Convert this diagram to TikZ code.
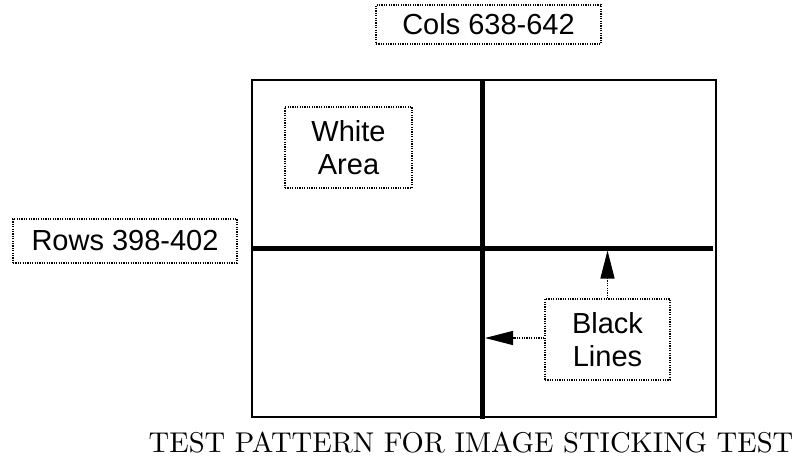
\documentclass[tikz,border=0pt]{standalone}
\usepackage{fontspec}
\newfontfamily\arial{Liberation Sans}
\newfontfamily\capfont{lmroman10-regular}[Extension=.otf]
\usetikzlibrary{positioning,calc,arrows.meta}
\tikzset{>={Triangle[length=28pt,width=14pt]},
  label box/.style={draw,line width=1.2pt,dash pattern=on 1.2pt off 1.2pt,
    font=\arial\fontsize{29}{33}\selectfont,align=center,inner sep=0pt},
  pointer/.style={->,line width=1.2pt,dash pattern=on 1.2pt off 1.2pt},
  black line/.style={line width=5pt}}

\begin{document}
\begin{tikzpicture}[x=1pt,y=-1pt]
\useasboundingbox (0,0) rectangle (802,462);
\node [draw,line width=2pt,minimum width=464pt,minimum height=337pt] (F) at (484,248.5) {};
\node [label box,minimum width=225pt,minimum height=39pt] (C) at (488.5,24.5) {Cols 638-642};
\node [label box,minimum width=224pt,minimum height=44pt] (R) at (125,241) {Rows 398-402};
\node [label box,minimum width=127pt,minimum height=81pt] (W) at (348.5,147.5) {White\\Area};
\node [label box,minimum width=125pt,minimum height=81pt] (B) at (607.5,339.5) {Black\\Lines};
\node [anchor=base,font=\capfont\fontsize{28.6}{30}\selectfont] (T) at (471,452)
  {TEST PATTERN FOR IMAGE STICKING TEST};
\coordinate (vtop) at (482.5,81);
\coordinate (vbot) at (482.5,419);
\coordinate (hleft) at (253,248);
\coordinate (hright) at (713,248);
\draw [black line] (vtop) -- (vbot);
\draw [black line] (hleft) -- (hright);
\draw [pointer] (B.north) -- ($(B.north |- hright)+(0,2.5)$);
\draw [pointer] (B.west |- 0,338) -- ($(vtop |- 0,338)+(2.5,0)$);
\end{tikzpicture}
\end{document}
